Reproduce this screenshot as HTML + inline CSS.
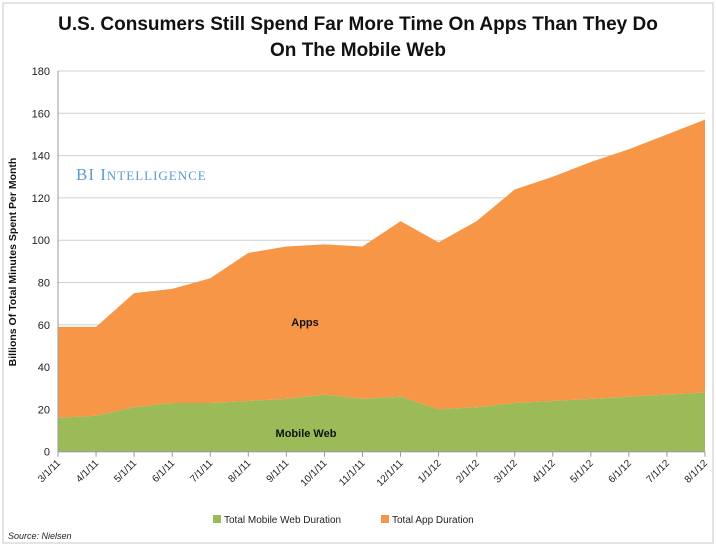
<!DOCTYPE html>
<html><head><meta charset="utf-8"><style>
body{margin:0;background:#fff;font-family:"Liberation Sans",sans-serif}
svg text{font-family:"Liberation Sans",sans-serif}
</style></head><body>
<svg id="chart" width="716" height="548">
<rect x="3" y="3" width="710" height="540" fill="#fff" stroke="#c8c8c8"/>
<text x="358" y="30" text-anchor="middle" font-size="19" font-weight="bold" fill="#111">U.S. Consumers Still Spend Far More Time On Apps Than They Do</text>
<text x="358" y="56" text-anchor="middle" font-size="19" font-weight="bold" fill="#111">On The Mobile Web</text>
<g id="grid"></g><g id="areas"></g><g id="axes"></g>
<text x="76" y="180" style="font-family:'Liberation Serif',serif" font-size="17" fill="#5b9bd5" letter-spacing="1">BI I<tspan font-size="13">NTELLIGENCE</tspan></text>
<text x="305" y="326" text-anchor="middle" font-size="11" font-weight="bold" fill="#111">Apps</text>
<text x="306" y="437" text-anchor="middle" font-size="11" font-weight="bold" fill="#111">Mobile Web</text>
<text x="16" y="262" transform="rotate(-90 16 262)" text-anchor="middle" font-size="10.5" font-weight="bold" fill="#111">Billions Of Total Minutes Spent Per Month</text>
<rect x="213" y="515" width="8" height="8" fill="#9bbb59"/>
<text x="224" y="523" font-size="10" fill="#222">Total Mobile Web Duration</text>
<rect x="381" y="515" width="8" height="8" fill="#f79646"/>
<text x="392" y="523" font-size="10" fill="#222">Total App Duration</text>
<text x="8" y="539" font-size="9" font-style="italic" fill="#222">Source: Nielsen</text>
</svg>
<script>
const categories=["3/1/11","4/1/11","5/1/11","6/1/11","7/1/11","8/1/11","9/1/11","10/1/11","11/1/11","12/1/11","1/1/12","2/1/12","3/1/12","4/1/12","5/1/12","6/1/12","7/1/12","8/1/12"];
const webValues=[16,17,21,23,23,24,25,27,25,26,20,21,23,24,25,26,27,28];
const appValues=[43,42,54,54,59,70,72,71,72,83,79,88,101,106,112,117,123,129];
const yTicks=[0,20,40,60,80,100,120,140,160,180];
const NS="http://www.w3.org/2000/svg";
const x0=58,x1=705,y0=451.7,y1=71;
const xs=i=>x0+(x1-x0)*i/(categories.length-1);
const ys=v=>y0-(y0-y1)*v/180;
function mk(t,a,p){const e=document.createElementNS(NS,t);for(const k in a)e.setAttribute(k,a[k]);p.appendChild(e);return e;}
const grid=document.getElementById('grid'),areas=document.getElementById('areas'),axes=document.getElementById('axes');
yTicks.forEach(v=>{
 const l=mk('line',{x1:x0,x2:x1,y1:ys(v),y2:ys(v),stroke:'#d0d0d0'},grid);
 
 
 const t=mk('text',{x:x0-8,y:ys(v)+4,'text-anchor':'end','font-size':'11',fill:'#222'},axes);
 t.textContent=v;
 
 
});
let webPts=[],topPts=[];
categories.forEach((c,i)=>{webPts.push(xs(i)+','+ys(webValues[i]));topPts.push(xs(i)+','+ys(webValues[i]+appValues[i]));});
const base=[xs(categories.length-1)+','+y0,x0+','+y0];
const app=mk('polygon',{points:topPts.concat(webPts.slice().reverse()).join(' '),fill:'#f79646'},areas);


const web=mk('polygon',{points:webPts.concat(base).join(' '),fill:'#9bbb59'},areas);


mk('line',{x1:x0,x2:x0,y1:y1,y2:y0,stroke:'#999'},axes);
mk('line',{x1:x0,x2:x1,y1:y0,y2:y0,stroke:'#999'},axes);
categories.forEach((c,i)=>{
 mk('line',{x1:xs(i),x2:xs(i),y1:y0,y2:y0+5,stroke:'#999'},axes);
 const tx=xs(i)+3,ty=y0+12;
 const t=mk('text',{x:tx,y:ty,'text-anchor':'end','font-size':'10',fill:'#222',transform:`rotate(-45 ${tx} ${ty})`},axes);
 t.textContent=c;
 
 
});
</script>
</body></html>
